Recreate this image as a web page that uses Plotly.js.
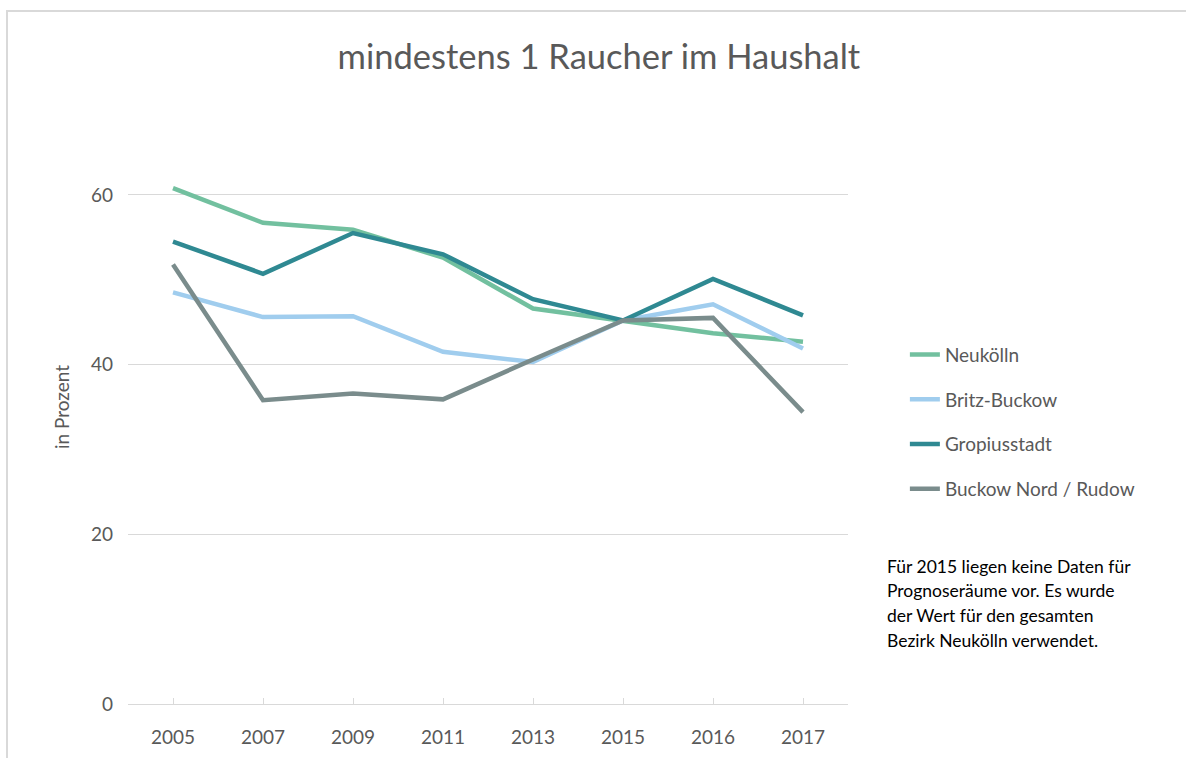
<!DOCTYPE html>
<html>
<head>
<meta charset="utf-8">
<script src="https://cdn.plot.ly/plotly-3.0.1.min.js"></script>
<style>
  html, body { margin: 0; padding: 0; background: #ffffff; overflow: hidden; }
  #chart { position: absolute; left: 0; top: 0; width: 1186px; height: 758px; }
  #frame { position: absolute; left: 6px; top: 10px; width: 1300px; height: 900px;
           border-top: 2px solid #d9d9d9; border-left: 2px solid #d9d9d9; pointer-events: none; }
</style>
</head>
<body>
<div id="chart"></div>
<div id="frame"></div>
<script>
const years = ["2005", "2007", "2009", "2011", "2013", "2015", "2016", "2017"];
const neukoelln = [60.8, 56.7, 55.9, 52.6, 46.6, 45.2, 43.7, 42.7];
const britzBuckow = [48.5, 45.6, 45.7, 41.5, 40.3, 45.2, 47.1, 41.9];
const gropiusstadt = [54.5, 50.7, 55.5, 53.0, 47.7, 45.2, 50.1, 45.8];
const buckowNordRudow = [51.8, 35.8, 36.6, 35.9, 40.6, 45.2, 45.5, 34.4];
const seriesNames = ["Neukölln", "Britz-Buckow", "Gropiusstadt", "Buckow Nord / Rudow"];
const seriesColors = ["#72c09f", "#a0cdee", "#2f8992", "#7a8c8c"];
const yTicks = [0, 20, 40, 60];
const noteLines = [
  "Für 2015 liegen keine Daten für",
  "Prognoseräume vor. Es wurde",
  "der Wert für den gesamten",
  "Bezirk Neukölln verwendet."
];

const font = "Lato, 'Open Sans', sans-serif";
const allSeries = [neukoelln, britzBuckow, gropiusstadt, buckowNordRudow];
const traces = allSeries.map((vals, i) => ({
  type: "scatter",
  mode: "lines",
  x: years,
  y: vals,
  name: seriesNames[i],
  legendgroup: "g" + i,
  line: { color: seriesColors[i], width: 4.5 },
  hoverinfo: "x+y+name"
}));

const annotations = noteLines.map((t, i) => ({
  xref: "paper", yref: "paper",
  x: 1.052, y: 0.253 - i * 0.0416,
  xanchor: "left", yanchor: "top",
  text: t, showarrow: false, align: "left",
  font: { family: font, size: 17.5, color: "#000000" }
}));

const layout = {
  width: 1186, height: 758,
  paper_bgcolor: "#ffffff", plot_bgcolor: "#ffffff",
  margin: { l: 128, r: 338, t: 110, b: 54 },
  title: {
    text: "mindestens 1 Raucher im Haushalt",
    font: { family: font, size: 34.5, color: "#595959" },
    x: 0.505, xanchor: "center", y: 0.925, yanchor: "middle"
  },
  xaxis: {
    type: "category",
    range: [-0.5, 7.5],
    showgrid: false,
    showline: true, linecolor: "#d9d9d9", linewidth: 1,
    ticks: "inside", ticklen: 6, tickcolor: "#d9d9d9",
    tickfont: { family: font, size: 19, color: "#595959" },
    ticklabelstandoff: 16,
    zeroline: false, fixedrange: true
  },
  yaxis: {
    range: [0, 70],
    tickvals: yTicks,
    ticktext: yTicks.map(String),
    showgrid: true, gridcolor: "#d9d9d9", gridwidth: 1,
    showline: false, zeroline: false, ticks: "",
    tickfont: { family: font, size: 19, color: "#595959" },
    ticklabelstandoff: 14,
    title: { text: "in Prozent", font: { family: font, size: 19, color: "#595959" }, standoff: 16 },
    fixedrange: true
  },
  legend: {
    x: 1.079, xanchor: "left",
    y: 0.62, yanchor: "top",
    font: { family: font, size: 19, color: "#595959" },
    bgcolor: "rgba(0,0,0,0)",
    tracegroupgap: 17,
    traceorder: "grouped"
  },
  showlegend: true,
  annotations: annotations
};

Plotly.newPlot("chart", traces, layout, { displayModeBar: false, staticPlot: false });
</script>
</body>
</html>
